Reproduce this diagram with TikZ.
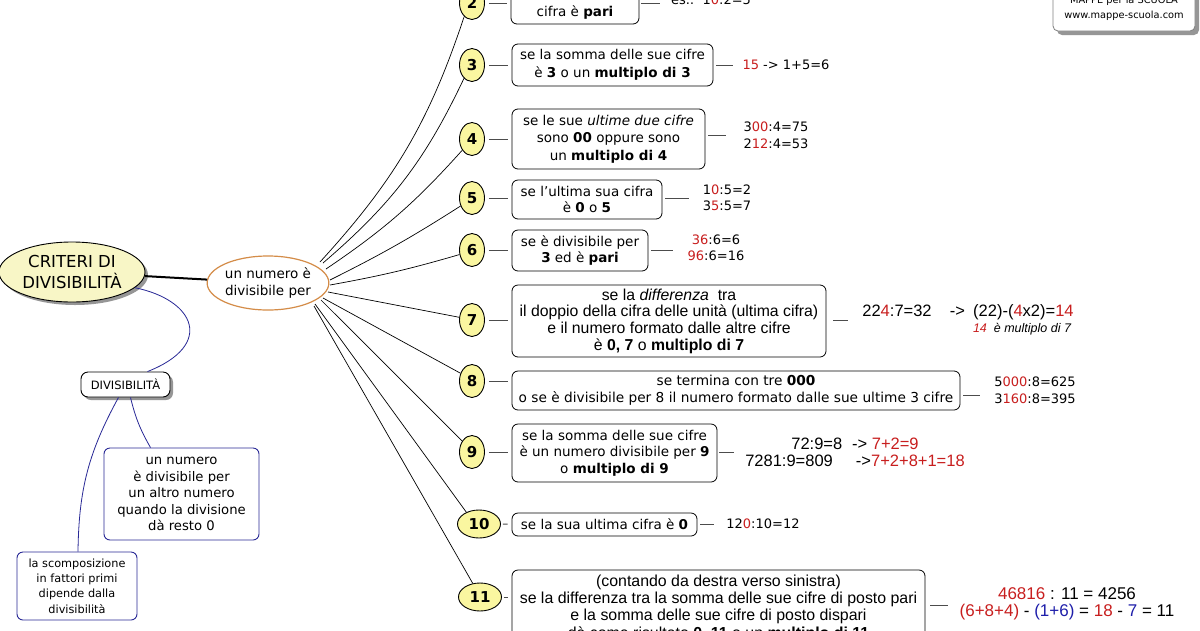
\documentclass[tikz,border=0pt]{standalone}
\usepackage{fontspec}
\setmainfont{DejaVu Sans}
\newfontfamily\arf{Liberation Sans}
\usetikzlibrary{shapes.geometric,shadows,calc}
\definecolor{numfill}{RGB}{250,246,160}
\definecolor{rootfill}{RGB}{248,246,198}
\definecolor{orng}{RGB}{212,140,72}
\definecolor{navy}{RGB}{40,40,150}
\definecolor{redn}{RGB}{200,30,30}
\definecolor{bluen}{RGB}{30,30,170}
\definecolor{shad}{RGB}{150,150,150}
\newcommand{\rd}[1]{\textcolor{redn}{#1}}
\newcommand{\bln}[1]{\textcolor{bluen}{#1}}
\begin{document}
\begin{tikzpicture}[x=1pt,y=-1pt,
  numnode/.style={ellipse, draw=black, line width=0.9pt, fill=numfill, inner sep=0pt, minimum width=25pt, minimum height=33pt, font=\fontsize{15}{18}\selectfont\bfseries},
  wnum/.style={numnode, minimum width=43pt, minimum height=28pt},
  crit/.style={draw=black, line width=0.8pt, rounded corners=6pt, fill=white, align=center, inner sep=2pt, font=\fontsize{13.5}{17.5}\selectfont},
  acrit/.style={crit, font=\arf\fontsize{15.8}{16.7}\selectfont},
  ex/.style={align=center, inner sep=0pt, font=\fontsize{13}{17}\selectfont},
  aex/.style={ex, font=\arf\fontsize{16.5}{17}\selectfont},
  link/.style={draw=black, line width=0.7pt},
  stub/.style={draw=black!70, line width=1pt},
  nstub/.style={stub, shorten <=4pt, shorten >=4pt},
  blink/.style={draw=navy, line width=0.8pt},
  bbox/.style={draw=navy, line width=0.9pt, rounded corners=6pt, fill=white, align=center, inner sep=2pt},
  shd/.style={drop shadow={shadow xshift=3pt, shadow yshift=-3pt, fill=shad, opacity=1}},
]
\useasboundingbox (0,0) rectangle (1200,630);
\clip (0,0) rectangle (1200,630);
\fill[white] (0,0) rectangle (1200,630);

% left part
\node[ellipse, draw=black, line width=0.9pt, fill=rootfill, minimum width=146pt, minimum height=60pt, inner sep=0pt, shd, align=center, font=\fontsize{16.5}{21}\selectfont] (root) at (72,272) {CRITERI DI\\DIVISIBILITÀ};
\node[ellipse, draw=orng, line width=1.2pt, fill=white, minimum width=114pt, minimum height=54pt, inner sep=0pt, align=center, font=\fontsize{13.5}{17}\selectfont] (mid) at (268,283) {un numero è\\divisibile per};
\draw[line width=2pt] (root) -- (mid);

\node[draw=black, line width=0.9pt, rounded corners=7pt, fill=white, minimum width=89pt, minimum height=25pt, inner sep=0pt, shd, font=\fontsize{11.5}{14}\selectfont] (divb) at (125.5,384.5) {DIVISIBILITÀ};
\node[bbox, minimum width=155pt, minimum height=92pt, font=\fontsize{13.2}{16.5}\selectfont] (bun) at (181.5,494) {un numero\\è divisibile per\\un altro numero\\quando la divisione\\dà resto 0};
\node[bbox, minimum width=120pt, minimum height=68pt, font=\fontsize{11.3}{15.3}\selectfont] (bsc) at (77,586) {la scomposizione\\in fattori primi\\dipende dalla\\divisibilità};
\draw[blink] (root.-14) .. controls (195,300) and (215,345) .. ([xshift=22pt]divb.north);
\draw[blink] ([xshift=5pt]divb.south) to[bend right=8] ([xshift=-31pt]bun.north);
\draw[blink] ([xshift=-7pt]divb.south) to[bend right=14] ([xshift=1pt]bsc.north);

% watermark box
\node[draw=gray, line width=0.8pt, rounded corners=5pt, fill=white, minimum width=142pt, minimum height=46pt, inner sep=0pt, align=center, drop shadow={shadow xshift=4pt, shadow yshift=-4pt, fill=shad, opacity=1}, font=\fontsize{9.8}{15}\selectfont] (mappe) at (1124,8) {MAPPE per la SCUOLA\\www.mappe-scuola.com};

% number nodes
\node[numnode] (n2) at (472,3) {2};
\node[numnode] (n3) at (472,65) {3};
\node[numnode] (n4) at (472,139) {4};
\node[numnode] (n5) at (472,198) {5};
\node[numnode] (n6) at (472,250) {6};
\node[numnode] (n7) at (472,320) {7};
\node[numnode] (n8) at (472,381) {8};
\node[numnode] (n9) at (472,452) {9};
\node[wnum] (n10) at (479,524) {10};
\node[wnum] (n11) at (480,597) {11};

% connectors from the central node
\draw[link] ([shift={(52,-21)}]mid.center) to[bend right=12] (n2.240);
\draw[link] ([shift={(55,-20)}]mid.center) to[bend right=12] (n3.239);
\draw[link] ([shift={(58,-14)}]mid.center) to[bend right=7] (n4.229);
\draw[link] ([shift={(62,-3)}]mid.center) to[bend right=3] (n5.215);
\draw[link] ([shift={(62,2)}]mid.center) to[bend right=3] (n6.200);
\draw[link] ([shift={(60,9)}]mid.center) -- (n7.168);
\draw[link] ([shift={(55,15)}]mid.center) -- (n8.146);
\draw[link] ([shift={(53,17)}]mid.center) -- (n9.132);
\draw[link] ([shift={(47,21)}]mid.center) -- (n10.137);
\draw[link] ([shift={(46,23)}]mid.center) -- (n11.118);

% criteria boxes
\node[crit, minimum width=128pt, minimum height=42pt] (b2) at (575,3) {\strut\\cifra è \textbf{pari}};
\node[crit, minimum width=201pt, minimum height=42pt] (b3) at (612.5,65) {se la somma delle sue cifre\\è \textbf{3} o un \textbf{multiplo di 3}};
\node[crit, minimum width=193pt, minimum height=60pt] (b4) at (608.5,139) {se le sue \textit{ultime due cifre}\\sono \textbf{00} oppure sono\\un \textbf{multiplo di 4}};
\node[crit, minimum width=150pt, minimum height=39pt, font=\fontsize{13.5}{16.5}\selectfont] (b5) at (587,199.5) {se l'ultima sua cifra\\è \textbf{0} o \textbf{5}};
\node[crit, minimum width=136pt, minimum height=41pt, font=\fontsize{13.5}{16.5}\selectfont] (b6) at (580,250.5) {se è divisibile per\\\textbf{3} ed è \textbf{pari}};
\node[acrit, minimum width=314pt, minimum height=72pt] (b7) at (669,321) {se la \textit{differenza}\ \ tra\\il doppio della cifra delle unità (ultima cifra)\\e il numero formato dalle altre cifre\\è \textbf{0, 7} o \textbf{multiplo di 7}};
\node[crit, minimum width=448pt, minimum height=39pt, font=\fontsize{13.7}{17}\selectfont] (b8) at (736,390.5) {se termina con tre \textbf{000}\\o se è divisibile per 8 il numero formato dalle sue ultime 3 cifre};
\node[crit, minimum width=205pt, minimum height=58pt, font=\fontsize{13.5}{16.5}\selectfont] (b9) at (614.5,453) {se la somma delle sue cifre\\è un numero divisibile per \textbf{9}\\o \textbf{multiplo di 9}};
\node[crit, minimum width=185pt, minimum height=23pt] (b10) at (604.5,524.5) {se la sua ultima cifra è \textbf{0}};
\node[acrit, minimum width=413pt, minimum height=76pt, font=\arf\fontsize{15.9}{17.3}\selectfont] (b11) at (718.5,608) {(contando da destra verso sinistra)\\se la differenza tra la somma delle sue cifre di posto pari\\e la somma delle sue cifre di posto dispari\\dà come risultato \textbf{0, 11} o un \textbf{multiplo di 11}};

% number -> box
\draw[nstub] (n2) -- (b2);
\draw[nstub] (n3) -- (b3);
\draw[nstub] (n4) -- (b4);
\draw[nstub] (n5) -- (b5.west |- n5);
\draw[nstub] (n6) -- (b6.west |- n6);
\draw[nstub] (n7) -- (b7.west |- n7);
\draw[nstub] (n8) -- (b8.west |- n8);
\draw[nstub] (n9) -- (b9.west |- n9);
\draw[stub, shorten <=2pt, shorten >=4pt] (n10) -- (b10);
\draw[stub, shorten <=2pt, shorten >=4pt] (n11) -- (b11.west |- n11);

% examples
\node[ex] (e2) at (711,0) {es.:\ \ 1\rd{0}:2=5};
\node[ex] (e3) at (786,65) {\rd{15} -> 1+5=6};
\node[ex] (e4) at (776,135.5) {3\rd{00}:4=75\\2\rd{12}:4=53};
\node[ex, font=\fontsize{13}{16}\selectfont] (e5) at (727,198) {1\rd{0}:5=2\\3\rd{5}:5=7};
\node[ex, font=\fontsize{13}{16}\selectfont] (e6) at (716,248) {\rd{36}:6=6\\\rd{96}:6=16};
\node[aex] (e7) at (968,312) {22\rd{4}:7=32\hspace{1.1em}->\hspace{0.5em}(22)-(\rd{4}x2)=\rd{14}};
\node[ex, font=\arf\itshape\fontsize{12.5}{14}\selectfont] (e7b) at (1022,329) {\rd{14}\ \ è multiplo di 7};
\node[ex] (e8) at (1035,390.5) {5\rd{000}:8=625\\3\rd{160}:8=395};
\node[aex] (e9) at (855,452.5) {72:9=8\hspace{0.6em}->\ \rd{7+2=9}\\7281:9=809\hspace{1.4em}->\rd{7+2+8+1=18}};
\node[ex] (e10) at (763,524) {12\rd{0}:10=12};
\node[aex, font=\arf\fontsize{17}{17}\selectfont] (e11) at (1067,603.5) {\rd{46816} : 11 = 4256\\\rd{(6+8+4)} - \bln{(1+6)} = \rd{18} - \bln{7} = 11};

% box -> example
\draw[stub] ($(b2.east)+(2,0)$) -- ++(19,0);
\draw[stub] ($(b3.east)+(3,0)$) -- ++(17,0);
\draw[stub] ($(b4.east)+(3,-4)$) -- ++(18,0);
\draw[stub] ($(b5.east)+(3,-1.5)$) -- ++(24,0);
\draw[stub] ($(b6.east)+(3,-0.5)$) -- ++(22,0);
\draw[stub] ($(b7.east)+(7,-1)$) -- ++(15,0);
\draw[stub] ($(b8.east)+(3,4.5)$) -- ++(17,0);
\draw[stub] ($(b9.east)+(2,-1)$) -- ++(15,0);
\draw[stub] ($(b10.east)+(3,0)$) -- ++(14,0);
\draw[stub] ($(b11.east)+(5,-3)$) -- ++(18,0);
\end{tikzpicture}
\end{document}
